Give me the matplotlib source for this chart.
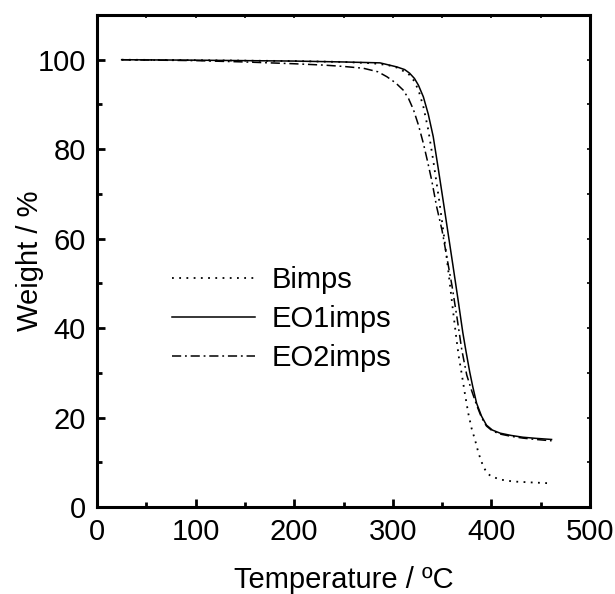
import matplotlib
matplotlib.use('Agg')
import matplotlib.pyplot as plt
from matplotlib.ticker import MultipleLocator

plt.rcParams['font.family'] = ['Liberation Sans', 'DejaVu Sans']

# Bimps (dotted)
t_bimps = [25, 100, 150, 200, 250, 280, 295, 305, 312, 317, 322.5, 327, 331, 336, 341, 347,
           352, 357, 361, 364.7, 367, 369.8, 373, 376.6, 380, 383.4, 387, 391.8, 396, 400.2,
           410, 422, 440, 460]
w_bimps = [100, 99.9, 99.8, 99.7, 99.5, 99.2, 98.8, 98.2, 97.3, 96.6, 95.0, 92.5, 89.5, 84.3, 77.5, 68.6,
           60.5, 51.5, 44.0, 37.3, 33.5, 29.9, 25.5, 20.9, 17.5, 15.0, 12.0, 9.0, 7.5, 6.8,
           6.1, 5.7, 5.5, 5.3]

# EO1imps (solid)
t_eo1 = [25, 100, 150, 200, 250, 287, 304, 312, 317, 322, 326, 331, 336, 341, 346, 351,
         356, 361, 366, 371, 374, 378, 381, 385, 390, 395, 401, 409, 420, 432, 445, 461]
w_eo1 = [100, 99.9, 99.8, 99.7, 99.5, 99.3, 98.4, 97.8, 97.0, 95.8, 94.3, 91.7, 87.8, 82.8, 75.8, 68.6,
         61.3, 54.0, 46.6, 39.0, 35.1, 30.2, 27.0, 23.2, 20.3, 18.3, 17.2, 16.5, 16.0, 15.6, 15.35, 15.1]

# EO2imps (dash-dot)
t_eo2 = [25, 100, 150, 200, 230, 250, 270, 285, 294, 303, 310.6, 316, 321, 326, 331, 335,
         339.4, 344.5, 350, 355, 360, 365, 370, 375, 380, 385, 390, 395, 401, 409, 420, 432, 445, 461]
w_eo2 = [100, 99.8, 99.5, 99.1, 98.8, 98.5, 98.1, 97.3, 96.2, 94.8, 93.2, 91.3, 88.8, 85.4, 81.3, 77.5,
         73.1, 67.1, 61.8, 55.6, 49.5, 42.5, 35.1, 29.5, 26.0, 22.8, 20.0, 18.1, 17.0, 16.3, 15.8, 15.4, 15.1, 14.8]

fig = plt.figure(figsize=(6.15, 5.94), dpi=100)
ax = fig.add_axes([97 / 615, 87 / 594, 493 / 615, 492 / 594])

lw = 1.1
ax.plot(t_bimps, w_bimps, color='black', lw=1.3, linestyle=(0, (1, 3)), label='Bimps')
ax.plot(t_eo1, w_eo1, color='black', lw=lw, linestyle='-', label='EO1imps')
ax.plot(t_eo2, w_eo2, color='black', lw=lw, linestyle=(0, (6, 2.5, 1.2, 2.5)), label='EO2imps')

ax.set_xlim(0, 500)
ax.set_ylim(0, 110)
ax.xaxis.set_major_locator(MultipleLocator(100))
ax.xaxis.set_minor_locator(MultipleLocator(50))
ax.yaxis.set_major_locator(MultipleLocator(20))
ax.yaxis.set_minor_locator(MultipleLocator(10))
ax.tick_params(which='major', direction='in', length=6, width=2, labelsize=21)
ax.tick_params(which='minor', direction='in', length=3.5, width=2)
ax.tick_params(axis='x', which='major', pad=8)
ax.tick_params(axis='y', which='major', pad=8)

for s in ax.spines.values():
    s.set_linewidth(2.2)

# short ticks on top and right
top = ax.secondary_xaxis('top')
top.set_xticks(range(0, 501, 50))
top.tick_params(direction='in', length=2.5, width=1.2, labeltop=False)
right = ax.secondary_yaxis('right')
right.set_yticks(range(0, 111, 10))
right.tick_params(direction='in', length=2.5, width=1.2, labelright=False)

ax.set_xlabel('Temperature / ºC', fontsize=21, labelpad=14)
ax.set_ylabel('Weight / %', fontsize=21)
ax.yaxis.set_label_coords(-0.107, 0.5)

ax.legend(frameon=False, fontsize=21, loc='upper left', bbox_to_anchor=(172 / 615, 1 - 266 / 594),
          bbox_transform=fig.transFigure, handlelength=2.85, handletextpad=0.55,
          labelspacing=0.38, borderpad=0, borderaxespad=0)

fig.savefig('out.png', dpi=100)
